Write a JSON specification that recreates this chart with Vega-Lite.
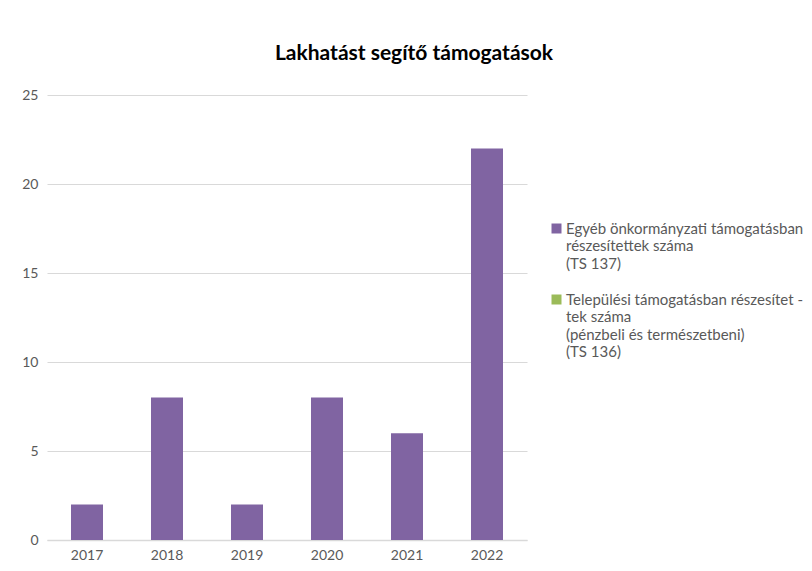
{
  "$schema": "https://vega.github.io/schema/vega-lite/v6.json",
  "width": 480,
  "height": 445,
  "autosize": "none",
  "padding": {"left": 47, "top": 95, "right": 285, "bottom": 31},
  "background": "white",
  "title": {
    "text": "Lakhatást segítő támogatások",
    "fontSize": 21,
    "font": "Lato",
    "fontWeight": "bold",
    "color": "#000000",
    "anchor": "middle",
    "dx": 127,
    "offset": 24
  },
  "data": {
    "values": [
      {"ev": "2017", "sorozat": "Egyéb önkormányzati támogatásban|részesítettek száma|(TS 137)", "ertek": 2},
      {"ev": "2018", "sorozat": "Egyéb önkormányzati támogatásban|részesítettek száma|(TS 137)", "ertek": 8},
      {"ev": "2019", "sorozat": "Egyéb önkormányzati támogatásban|részesítettek száma|(TS 137)", "ertek": 2},
      {"ev": "2020", "sorozat": "Egyéb önkormányzati támogatásban|részesítettek száma|(TS 137)", "ertek": 8},
      {"ev": "2021", "sorozat": "Egyéb önkormányzati támogatásban|részesítettek száma|(TS 137)", "ertek": 6},
      {"ev": "2022", "sorozat": "Egyéb önkormányzati támogatásban|részesítettek száma|(TS 137)", "ertek": 22}
    ]
  },
  "mark": {"type": "bar"},
  "encoding": {
    "x": {
      "field": "ev",
      "type": "nominal",
      "scale": {"paddingInner": 0.6, "paddingOuter": 0.3},
      "axis": {
        "title": null,
        "labelAngle": 0,
        "labelFont": "Lato",
        "labelFontSize": 14,
        "labelColor": "#595959",
        "labelPadding": 8,
        "ticks": false,
        "domainColor": "#d9d9d9",
        "domainWidth": 1.5,
        "grid": false
      }
    },
    "y": {
      "field": "ertek",
      "type": "quantitative",
      "scale": {"domain": [0, 25], "nice": false},
      "axis": {
        "title": null,
        "values": [0, 5, 10, 15, 20, 25],
        "labelFont": "Lato",
        "labelFontSize": 14,
        "labelColor": "#595959",
        "labelPadding": 9,
        "ticks": false,
        "domain": false,
        "gridColor": "#d9d9d9",
        "gridWidth": 1
      }
    },
    "color": {
      "field": "sorozat",
      "type": "nominal",
      "scale": {
        "domain": [
          "Egyéb önkormányzati támogatásban|részesítettek száma|(TS 137)",
          "Települési támogatásban részesítet -|tek száma|(pénzbeli és természetbeni)|(TS 136)"
        ],
        "range": ["#8064A2", "#9BBB59"]
      },
      "legend": {
        "title": null,
        "orient": "none",
        "legendX": 502,
        "legendY": 126,
        "symbolType": "square",
        "symbolSize": 100,
        "symbolStrokeWidth": 0,
        "labelFont": "Lato",
        "labelFontSize": 15,
        "labelColor": "#595959",
        "labelLimit": 300,
        "labelBaseline": "middle",
        "labelOffset": 2,
        "rowPadding": 20,
        "labelExpr": "split(datum.label, '|')",
        "encode": {"labels": {"update": {"lineHeight": {"value": 17.5}}}}
      }
    }
  },
  "config": {"view": {"stroke": null}}
}
